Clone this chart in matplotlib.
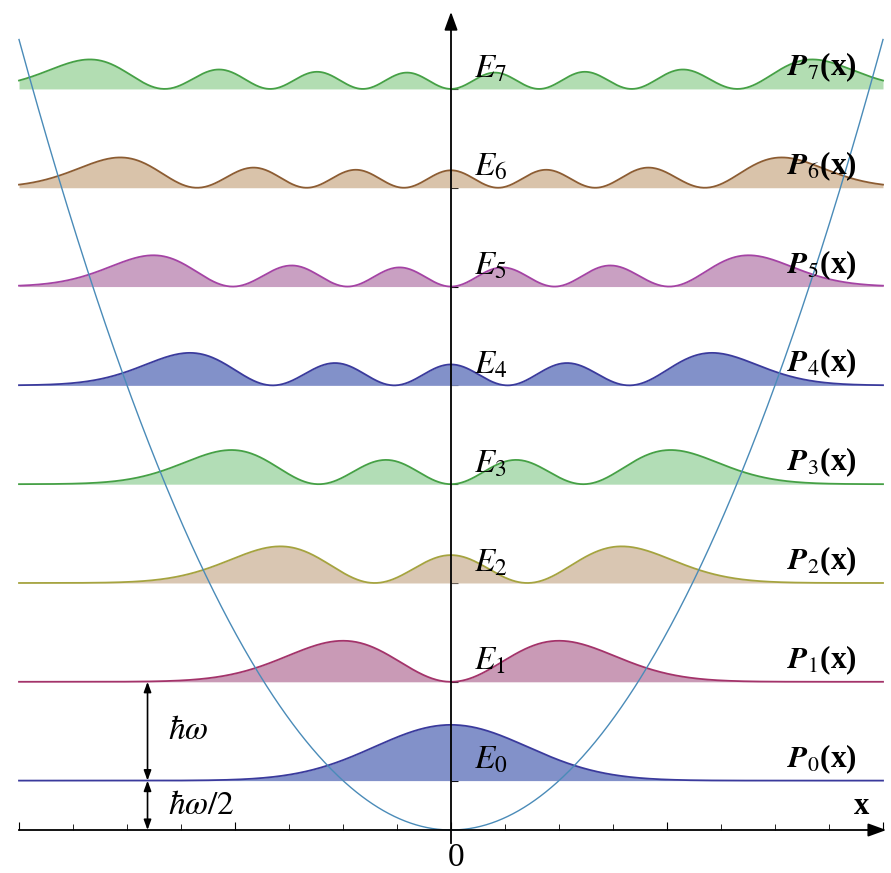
import math

import matplotlib
matplotlib.use("Agg")
import matplotlib.pyplot as plt
import numpy as np
from numpy.polynomial.hermite import hermval

plt.rcParams["font.family"] = ["Liberation Serif", "DejaVu Serif"]
plt.rcParams["mathtext.fontset"] = "stix"

# oscillator levels, in units of hbar*omega (E_n = n + 1/2)
LEVELS = [0, 1, 2, 3, 4, 5, 6, 7]
ENERGIES = [0.5, 1.5, 2.5, 3.5, 4.5, 5.5, 6.5, 7.5]
X_RANGE = (-4.0, 4.0)

FILL_COLORS = ["#8291c9", "#c99ab6", "#d9c6b2", "#b2ddb6",
               "#8291c9", "#c9a0c2", "#d9c3aa", "#b2ddb2"]
LINE_COLORS = ["#3a3a9c", "#a3336a", "#a5a33f", "#45a045",
               "#3a3a9c", "#a443a4", "#8c5c32", "#45a045"]
POT_COLOR = "#4a8bb8"


def density(n, x):
    """|psi_n(x)|^2 for the dimensionless harmonic oscillator."""
    c = np.zeros(n + 1)
    c[n] = 1.0
    norm = 1.0 / math.sqrt(2.0 ** n * math.factorial(n) * math.sqrt(math.pi))
    psi = norm * hermval(x, c) * np.exp(-x ** 2 / 2.0)
    return psi ** 2


fig = plt.figure(figsize=(8.91, 8.73), dpi=100)
ax = fig.add_axes([0, 0, 1, 1])
ax.set_xlim(-4.176, 4.074)
ax.set_ylim(-0.435, 8.40)

x = np.linspace(X_RANGE[0], X_RANGE[1], 800)

for n, en, fc, lc in zip(LEVELS, ENERGIES, FILL_COLORS, LINE_COLORS):
    p = en + density(n, x)
    ax.fill_between(x, en, p, color=fc, lw=0, zorder=2)
    ax.plot(x, p, color=lc, lw=1.3, zorder=3)
    ax.text(0.21, en + 0.12, rf"$E_{{{n}}}$", fontsize=24,
            ha="left", va="baseline", zorder=6)
    ax.text(3.11, en + 0.14, rf"$\mathbfit{{P}}_{{{n}}}$(x)", fontsize=22.5,
            fontweight="bold", ha="left", va="baseline", zorder=6)

# potential V = x^2 / 2
ax.plot(x, x ** 2 / 2.0, color=POT_COLOR, lw=1.0, zorder=4)

# axes through the origin
for side in ("top", "right"):
    ax.spines[side].set_visible(False)
ax.spines["bottom"].set_position(("data", 0))
ax.spines["left"].set_position(("data", 0))
ax.spines["bottom"].set_bounds(-4.0, 4.0)
ax.spines["left"].set_bounds(-0.13, 8.2)
for s in ("bottom", "left"):
    ax.spines[s].set_linewidth(1.3)
    ax.spines[s].set_zorder(5)
ax.set_xticks([-4, -2, 0, 2, 4])
ax.set_xticks(np.arange(-4, 4.01, 0.5), minor=True)
ax.set_yticks(ENERGIES)
ax.tick_params(axis="x", which="major", direction="in", length=6, width=0.8,
               labelbottom=False)
ax.tick_params(axis="x", which="minor", direction="in", length=4, width=0.6)
ax.tick_params(axis="y", which="major", direction="in", length=5, width=0.8,
               labelleft=False)

arrow = dict(arrowstyle="-|>,head_length=1.1,head_width=0.4", color="black",
             lw=1.3, shrinkA=0, shrinkB=0)
ax.annotate("", xy=(4.03, 0), xytext=(3.9, 0), arrowprops=arrow, zorder=6)
ax.annotate("", xy=(0, 8.28), xytext=(0, 8.1), arrowprops=arrow, zorder=6)

ax.text(3.8, 0.24, "x", fontsize=22, fontweight="bold", ha="center", va="center")
ax.text(0.05, -0.28, "0", fontsize=24, ha="center", va="center")

# energy spacing markers
dbl = dict(arrowstyle="<|-|>,head_length=0.6,head_width=0.22", color="black",
           lw=1.2, shrinkA=0, shrinkB=0)
ax.annotate("", xy=(-2.81, ENERGIES[0]), xytext=(-2.81, ENERGIES[1]),
            arrowprops=dbl, zorder=6)
ax.annotate("", xy=(-2.81, 0.0), xytext=(-2.81, ENERGIES[0]),
            arrowprops=dbl, zorder=6)
ax.text(-2.62, 1.0, r"$\hbar\omega$", fontsize=24, ha="left", va="center")
ax.text(-2.62, 0.25, r"$\hbar\omega/2$", fontsize=24, ha="left", va="center")

fig.savefig("out.png", dpi=100)
